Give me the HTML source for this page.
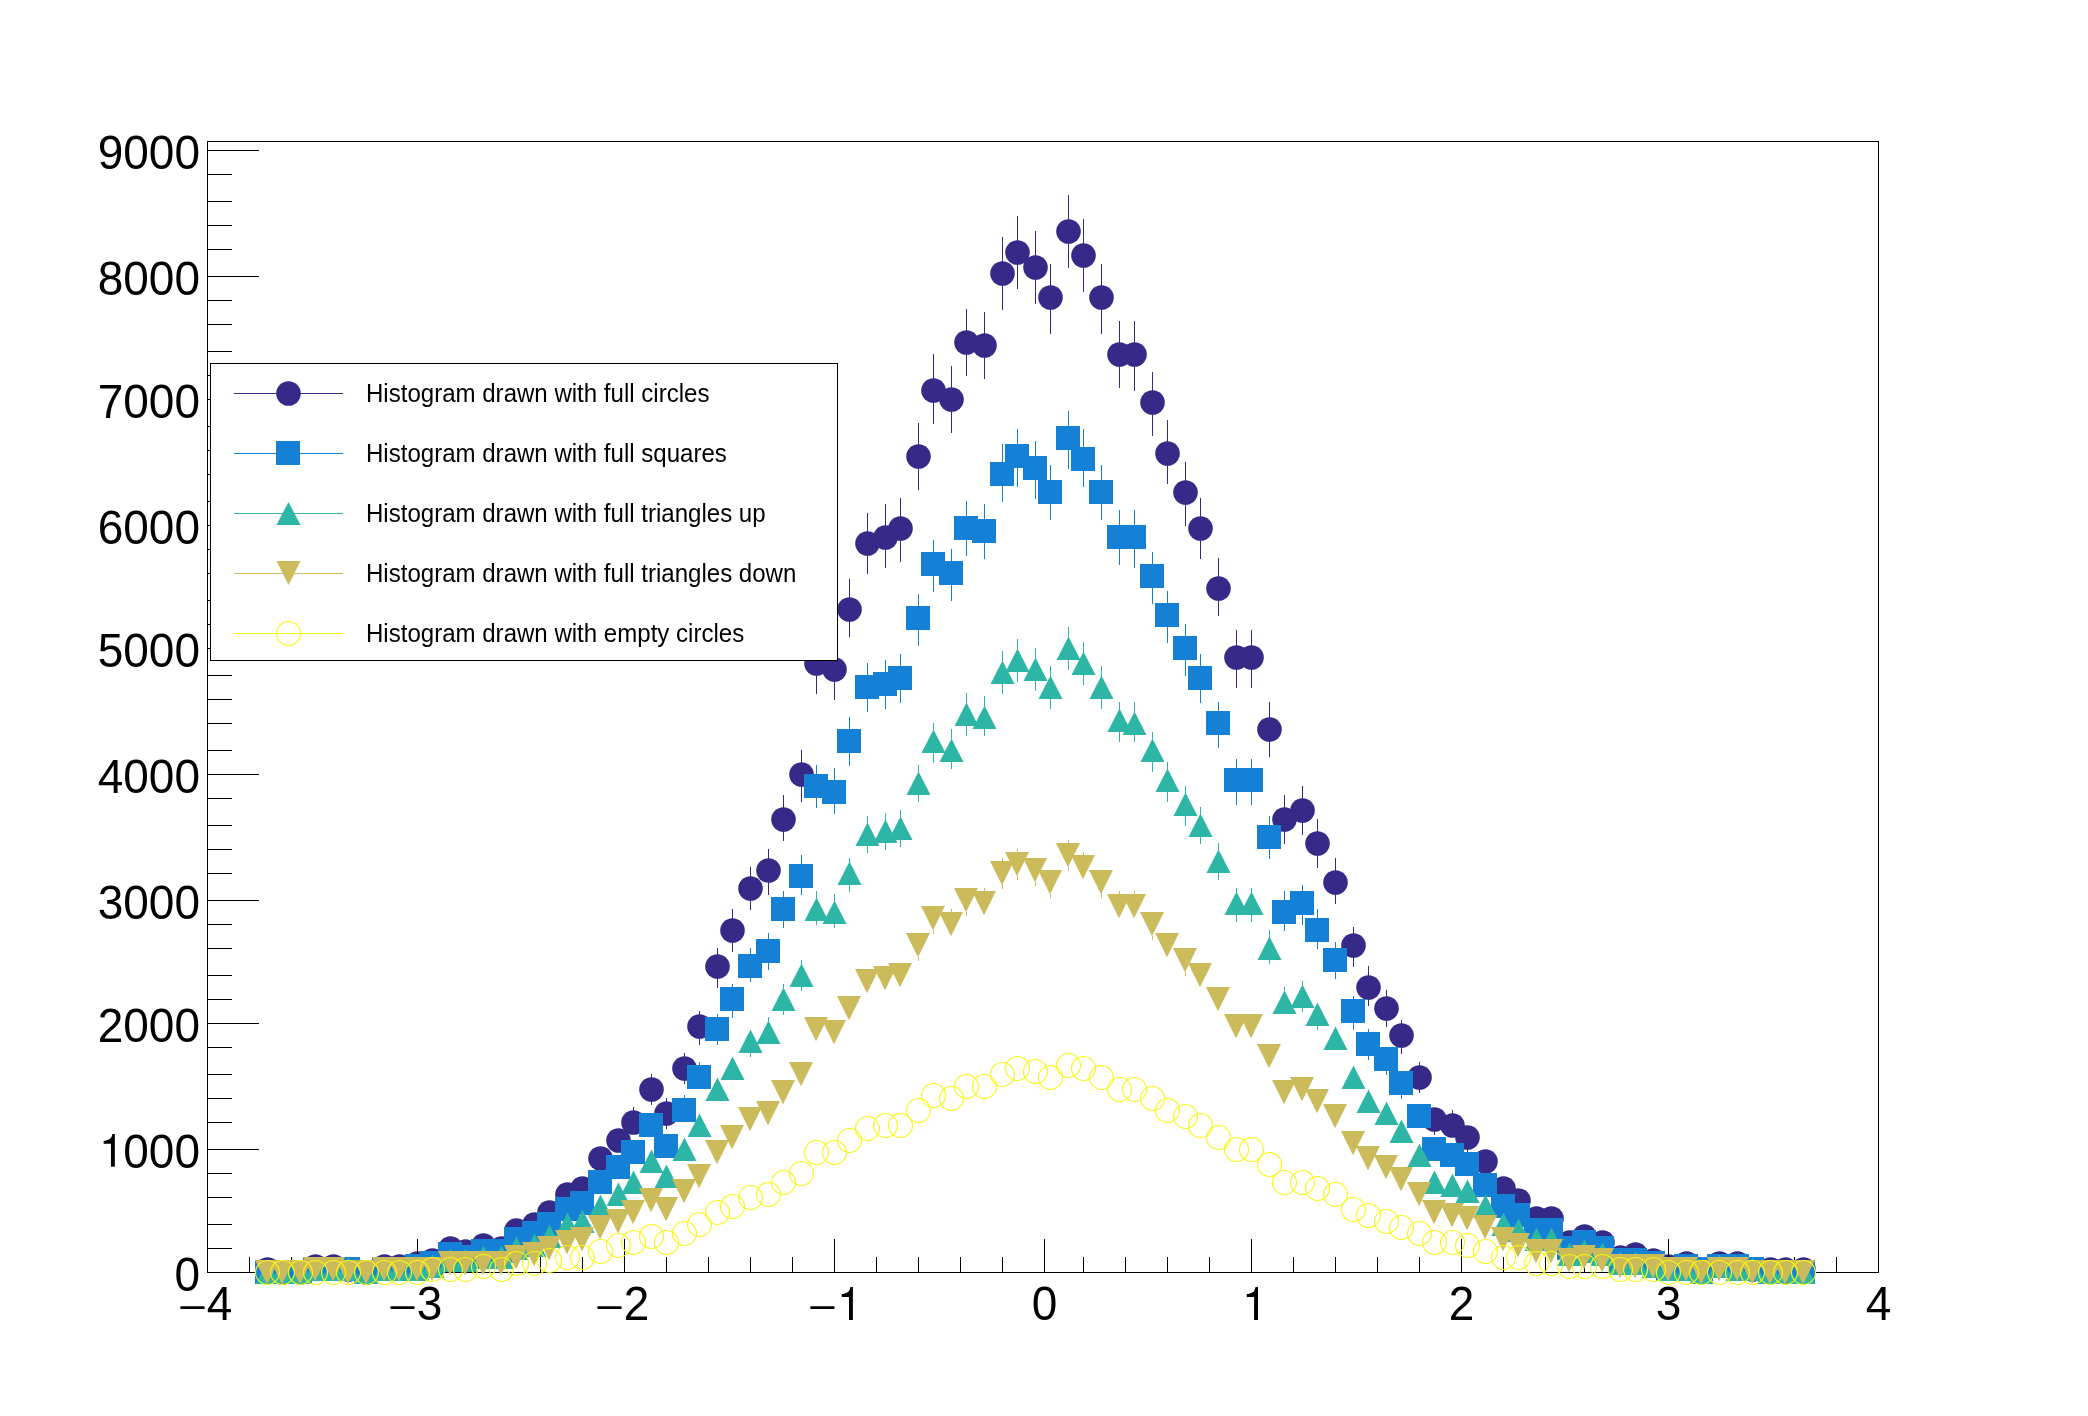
<!DOCTYPE html>
<html><head><meta charset="utf-8"><style>
html,body{margin:0;padding:0;background:#fff;}
svg{display:block;will-change:transform;}
.lab{font-family:"Liberation Sans",sans-serif;font-size:46px;fill:#000;}
.leg{font-family:"Liberation Sans",sans-serif;font-size:24.5px;fill:#000;}
</style></head><body>
<svg width="2088" height="1416" viewBox="0 0 2088 1416">
<rect width="2088" height="1416" fill="#fff"/>
<rect x="207.5" y="141.5" width="1671" height="1131" fill="none" stroke="#000" stroke-width="1"/><g><circle cx="267.5" cy="1269.5" r="12.3" fill="#352a87"/><circle cx="282.5" cy="1272.5" r="12.3" fill="#352a87"/><circle cx="300.5" cy="1272.5" r="12.3" fill="#352a87"/><circle cx="315.5" cy="1266.5" r="12.3" fill="#352a87"/><circle cx="333.5" cy="1266.5" r="12.3" fill="#352a87"/><circle cx="348.5" cy="1269.5" r="12.3" fill="#352a87"/><circle cx="366.5" cy="1272.5" r="12.3" fill="#352a87"/><circle cx="384.5" cy="1266.5" r="12.3" fill="#352a87"/><circle cx="399.5" cy="1266.5" r="12.3" fill="#352a87"/><circle cx="417.5" cy="1263.5" r="12.3" fill="#352a87"/><circle cx="432.5" cy="1260.5" r="12.3" fill="#352a87"/><circle cx="450.5" cy="1248.5" r="12.3" fill="#352a87"/><circle cx="465.5" cy="1251.5" r="12.3" fill="#352a87"/><circle cx="483.5" cy="1245.5" r="12.3" fill="#352a87"/><circle cx="501.5" cy="1248.5" r="12.3" fill="#352a87"/><circle cx="516.5" cy="1230.5" r="12.3" fill="#352a87"/><circle cx="534.5" cy="1224.5" r="12.3" fill="#352a87"/><circle cx="549.5" cy="1212.5" r="12.3" fill="#352a87"/><circle cx="567.5" cy="1194.5" r="12.3" fill="#352a87"/><circle cx="582.5" cy="1188.5" r="12.3" fill="#352a87"/><circle cx="600.5" cy="1158.5" r="12.3" fill="#352a87"/><circle cx="618.5" cy="1140.5" r="12.3" fill="#352a87"/><line x1="633.5" y1="1107" x2="633.5" y2="1111" stroke="#352a87" stroke-width="1"/><circle cx="633.5" cy="1122.5" r="12.3" fill="#352a87"/><line x1="651.5" y1="1074" x2="651.5" y2="1078" stroke="#352a87" stroke-width="1"/><line x1="651.5" y1="1101" x2="651.5" y2="1105" stroke="#352a87" stroke-width="1"/><circle cx="651.5" cy="1089.5" r="12.3" fill="#352a87"/><line x1="666.5" y1="1098" x2="666.5" y2="1102" stroke="#352a87" stroke-width="1"/><line x1="666.5" y1="1125" x2="666.5" y2="1129" stroke="#352a87" stroke-width="1"/><circle cx="666.5" cy="1113.5" r="12.3" fill="#352a87"/><line x1="684.5" y1="1053" x2="684.5" y2="1057" stroke="#352a87" stroke-width="1"/><line x1="684.5" y1="1080" x2="684.5" y2="1084" stroke="#352a87" stroke-width="1"/><circle cx="684.5" cy="1068.5" r="12.3" fill="#352a87"/><line x1="699.5" y1="1011" x2="699.5" y2="1015" stroke="#352a87" stroke-width="1"/><line x1="699.5" y1="1038" x2="699.5" y2="1045" stroke="#352a87" stroke-width="1"/><circle cx="699.5" cy="1026.5" r="12.3" fill="#352a87"/><line x1="717.5" y1="948" x2="717.5" y2="955" stroke="#352a87" stroke-width="1"/><line x1="717.5" y1="978" x2="717.5" y2="988" stroke="#352a87" stroke-width="1"/><circle cx="717.5" cy="966.5" r="12.3" fill="#352a87"/><line x1="732.5" y1="909" x2="732.5" y2="919" stroke="#352a87" stroke-width="1"/><line x1="732.5" y1="942" x2="732.5" y2="952" stroke="#352a87" stroke-width="1"/><circle cx="732.5" cy="930.5" r="12.3" fill="#352a87"/><line x1="750.5" y1="867" x2="750.5" y2="877" stroke="#352a87" stroke-width="1"/><line x1="750.5" y1="900" x2="750.5" y2="910" stroke="#352a87" stroke-width="1"/><circle cx="750.5" cy="888.5" r="12.3" fill="#352a87"/><line x1="768.5" y1="849" x2="768.5" y2="859" stroke="#352a87" stroke-width="1"/><line x1="768.5" y1="882" x2="768.5" y2="895" stroke="#352a87" stroke-width="1"/><circle cx="768.5" cy="870.5" r="12.3" fill="#352a87"/><line x1="783.5" y1="795" x2="783.5" y2="808" stroke="#352a87" stroke-width="1"/><line x1="783.5" y1="831" x2="783.5" y2="841" stroke="#352a87" stroke-width="1"/><circle cx="783.5" cy="819.5" r="12.3" fill="#352a87"/><line x1="801.5" y1="750" x2="801.5" y2="763" stroke="#352a87" stroke-width="1"/><line x1="801.5" y1="786" x2="801.5" y2="802" stroke="#352a87" stroke-width="1"/><circle cx="801.5" cy="774.5" r="12.3" fill="#352a87"/><line x1="816.5" y1="636" x2="816.5" y2="652" stroke="#352a87" stroke-width="1"/><line x1="816.5" y1="675" x2="816.5" y2="694" stroke="#352a87" stroke-width="1"/><circle cx="816.5" cy="663.5" r="12.3" fill="#352a87"/><line x1="834.5" y1="642" x2="834.5" y2="658" stroke="#352a87" stroke-width="1"/><line x1="834.5" y1="681" x2="834.5" y2="700" stroke="#352a87" stroke-width="1"/><circle cx="834.5" cy="669.5" r="12.3" fill="#352a87"/><line x1="849.5" y1="579" x2="849.5" y2="598" stroke="#352a87" stroke-width="1"/><line x1="849.5" y1="621" x2="849.5" y2="637" stroke="#352a87" stroke-width="1"/><circle cx="849.5" cy="609.5" r="12.3" fill="#352a87"/><line x1="867.5" y1="513" x2="867.5" y2="532" stroke="#352a87" stroke-width="1"/><line x1="867.5" y1="555" x2="867.5" y2="574" stroke="#352a87" stroke-width="1"/><circle cx="867.5" cy="543.5" r="12.3" fill="#352a87"/><line x1="885.5" y1="504" x2="885.5" y2="526" stroke="#352a87" stroke-width="1"/><line x1="885.5" y1="549" x2="885.5" y2="568" stroke="#352a87" stroke-width="1"/><circle cx="885.5" cy="537.5" r="12.3" fill="#352a87"/><line x1="900.5" y1="498" x2="900.5" y2="517" stroke="#352a87" stroke-width="1"/><line x1="900.5" y1="540" x2="900.5" y2="562" stroke="#352a87" stroke-width="1"/><circle cx="900.5" cy="528.5" r="12.3" fill="#352a87"/><line x1="918.5" y1="423" x2="918.5" y2="445" stroke="#352a87" stroke-width="1"/><line x1="918.5" y1="468" x2="918.5" y2="490" stroke="#352a87" stroke-width="1"/><circle cx="918.5" cy="456.5" r="12.3" fill="#352a87"/><line x1="933.5" y1="354" x2="933.5" y2="379" stroke="#352a87" stroke-width="1"/><line x1="933.5" y1="402" x2="933.5" y2="424" stroke="#352a87" stroke-width="1"/><circle cx="933.5" cy="390.5" r="12.3" fill="#352a87"/><line x1="951.5" y1="366" x2="951.5" y2="388" stroke="#352a87" stroke-width="1"/><line x1="951.5" y1="411" x2="951.5" y2="433" stroke="#352a87" stroke-width="1"/><circle cx="951.5" cy="399.5" r="12.3" fill="#352a87"/><line x1="966.5" y1="309" x2="966.5" y2="331" stroke="#352a87" stroke-width="1"/><line x1="966.5" y1="354" x2="966.5" y2="376" stroke="#352a87" stroke-width="1"/><circle cx="966.5" cy="342.5" r="12.3" fill="#352a87"/><line x1="984.5" y1="312" x2="984.5" y2="334" stroke="#352a87" stroke-width="1"/><line x1="984.5" y1="357" x2="984.5" y2="379" stroke="#352a87" stroke-width="1"/><circle cx="984.5" cy="345.5" r="12.3" fill="#352a87"/><line x1="1002.5" y1="237" x2="1002.5" y2="262" stroke="#352a87" stroke-width="1"/><line x1="1002.5" y1="285" x2="1002.5" y2="310" stroke="#352a87" stroke-width="1"/><circle cx="1002.5" cy="273.5" r="12.3" fill="#352a87"/><line x1="1017.5" y1="216" x2="1017.5" y2="241" stroke="#352a87" stroke-width="1"/><line x1="1017.5" y1="264" x2="1017.5" y2="289" stroke="#352a87" stroke-width="1"/><circle cx="1017.5" cy="252.5" r="12.3" fill="#352a87"/><line x1="1035.5" y1="231" x2="1035.5" y2="256" stroke="#352a87" stroke-width="1"/><line x1="1035.5" y1="279" x2="1035.5" y2="304" stroke="#352a87" stroke-width="1"/><circle cx="1035.5" cy="267.5" r="12.3" fill="#352a87"/><line x1="1050.5" y1="264" x2="1050.5" y2="286" stroke="#352a87" stroke-width="1"/><line x1="1050.5" y1="309" x2="1050.5" y2="334" stroke="#352a87" stroke-width="1"/><circle cx="1050.5" cy="297.5" r="12.3" fill="#352a87"/><line x1="1068.5" y1="195" x2="1068.5" y2="220" stroke="#352a87" stroke-width="1"/><line x1="1068.5" y1="243" x2="1068.5" y2="268" stroke="#352a87" stroke-width="1"/><circle cx="1068.5" cy="231.5" r="12.3" fill="#352a87"/><line x1="1083.5" y1="219" x2="1083.5" y2="244" stroke="#352a87" stroke-width="1"/><line x1="1083.5" y1="267" x2="1083.5" y2="292" stroke="#352a87" stroke-width="1"/><circle cx="1083.5" cy="255.5" r="12.3" fill="#352a87"/><line x1="1101.5" y1="264" x2="1101.5" y2="286" stroke="#352a87" stroke-width="1"/><line x1="1101.5" y1="309" x2="1101.5" y2="334" stroke="#352a87" stroke-width="1"/><circle cx="1101.5" cy="297.5" r="12.3" fill="#352a87"/><line x1="1119.5" y1="321" x2="1119.5" y2="343" stroke="#352a87" stroke-width="1"/><line x1="1119.5" y1="366" x2="1119.5" y2="388" stroke="#352a87" stroke-width="1"/><circle cx="1119.5" cy="354.5" r="12.3" fill="#352a87"/><line x1="1134.5" y1="321" x2="1134.5" y2="343" stroke="#352a87" stroke-width="1"/><line x1="1134.5" y1="366" x2="1134.5" y2="391" stroke="#352a87" stroke-width="1"/><circle cx="1134.5" cy="354.5" r="12.3" fill="#352a87"/><line x1="1152.5" y1="372" x2="1152.5" y2="391" stroke="#352a87" stroke-width="1"/><line x1="1152.5" y1="414" x2="1152.5" y2="436" stroke="#352a87" stroke-width="1"/><circle cx="1152.5" cy="402.5" r="12.3" fill="#352a87"/><line x1="1167.5" y1="420" x2="1167.5" y2="442" stroke="#352a87" stroke-width="1"/><line x1="1167.5" y1="465" x2="1167.5" y2="484" stroke="#352a87" stroke-width="1"/><circle cx="1167.5" cy="453.5" r="12.3" fill="#352a87"/><line x1="1185.5" y1="462" x2="1185.5" y2="481" stroke="#352a87" stroke-width="1"/><line x1="1185.5" y1="504" x2="1185.5" y2="526" stroke="#352a87" stroke-width="1"/><circle cx="1185.5" cy="492.5" r="12.3" fill="#352a87"/><line x1="1200.5" y1="498" x2="1200.5" y2="517" stroke="#352a87" stroke-width="1"/><line x1="1200.5" y1="540" x2="1200.5" y2="559" stroke="#352a87" stroke-width="1"/><circle cx="1200.5" cy="528.5" r="12.3" fill="#352a87"/><line x1="1218.5" y1="558" x2="1218.5" y2="577" stroke="#352a87" stroke-width="1"/><line x1="1218.5" y1="600" x2="1218.5" y2="616" stroke="#352a87" stroke-width="1"/><circle cx="1218.5" cy="588.5" r="12.3" fill="#352a87"/><line x1="1236.5" y1="630" x2="1236.5" y2="646" stroke="#352a87" stroke-width="1"/><line x1="1236.5" y1="669" x2="1236.5" y2="688" stroke="#352a87" stroke-width="1"/><circle cx="1236.5" cy="657.5" r="12.3" fill="#352a87"/><line x1="1251.5" y1="630" x2="1251.5" y2="646" stroke="#352a87" stroke-width="1"/><line x1="1251.5" y1="669" x2="1251.5" y2="688" stroke="#352a87" stroke-width="1"/><circle cx="1251.5" cy="657.5" r="12.3" fill="#352a87"/><line x1="1269.5" y1="702" x2="1269.5" y2="718" stroke="#352a87" stroke-width="1"/><line x1="1269.5" y1="741" x2="1269.5" y2="757" stroke="#352a87" stroke-width="1"/><circle cx="1269.5" cy="729.5" r="12.3" fill="#352a87"/><line x1="1284.5" y1="795" x2="1284.5" y2="808" stroke="#352a87" stroke-width="1"/><line x1="1284.5" y1="831" x2="1284.5" y2="844" stroke="#352a87" stroke-width="1"/><circle cx="1284.5" cy="819.5" r="12.3" fill="#352a87"/><line x1="1302.5" y1="786" x2="1302.5" y2="799" stroke="#352a87" stroke-width="1"/><line x1="1302.5" y1="822" x2="1302.5" y2="835" stroke="#352a87" stroke-width="1"/><circle cx="1302.5" cy="810.5" r="12.3" fill="#352a87"/><line x1="1317.5" y1="819" x2="1317.5" y2="832" stroke="#352a87" stroke-width="1"/><line x1="1317.5" y1="855" x2="1317.5" y2="868" stroke="#352a87" stroke-width="1"/><circle cx="1317.5" cy="843.5" r="12.3" fill="#352a87"/><line x1="1335.5" y1="858" x2="1335.5" y2="871" stroke="#352a87" stroke-width="1"/><line x1="1335.5" y1="894" x2="1335.5" y2="904" stroke="#352a87" stroke-width="1"/><circle cx="1335.5" cy="882.5" r="12.3" fill="#352a87"/><line x1="1353.5" y1="927" x2="1353.5" y2="934" stroke="#352a87" stroke-width="1"/><line x1="1353.5" y1="957" x2="1353.5" y2="967" stroke="#352a87" stroke-width="1"/><circle cx="1353.5" cy="945.5" r="12.3" fill="#352a87"/><line x1="1368.5" y1="966" x2="1368.5" y2="976" stroke="#352a87" stroke-width="1"/><line x1="1368.5" y1="999" x2="1368.5" y2="1006" stroke="#352a87" stroke-width="1"/><circle cx="1368.5" cy="987.5" r="12.3" fill="#352a87"/><line x1="1386.5" y1="990" x2="1386.5" y2="997" stroke="#352a87" stroke-width="1"/><line x1="1386.5" y1="1020" x2="1386.5" y2="1027" stroke="#352a87" stroke-width="1"/><circle cx="1386.5" cy="1008.5" r="12.3" fill="#352a87"/><line x1="1401.5" y1="1020" x2="1401.5" y2="1024" stroke="#352a87" stroke-width="1"/><line x1="1401.5" y1="1047" x2="1401.5" y2="1054" stroke="#352a87" stroke-width="1"/><circle cx="1401.5" cy="1035.5" r="12.3" fill="#352a87"/><line x1="1419.5" y1="1062" x2="1419.5" y2="1066" stroke="#352a87" stroke-width="1"/><line x1="1419.5" y1="1089" x2="1419.5" y2="1093" stroke="#352a87" stroke-width="1"/><circle cx="1419.5" cy="1077.5" r="12.3" fill="#352a87"/><line x1="1434.5" y1="1131" x2="1434.5" y2="1135" stroke="#352a87" stroke-width="1"/><circle cx="1434.5" cy="1119.5" r="12.3" fill="#352a87"/><line x1="1452.5" y1="1110" x2="1452.5" y2="1114" stroke="#352a87" stroke-width="1"/><circle cx="1452.5" cy="1125.5" r="12.3" fill="#352a87"/><line x1="1467.5" y1="1149" x2="1467.5" y2="1153" stroke="#352a87" stroke-width="1"/><circle cx="1467.5" cy="1137.5" r="12.3" fill="#352a87"/><circle cx="1485.5" cy="1161.5" r="12.3" fill="#352a87"/><circle cx="1503.5" cy="1188.5" r="12.3" fill="#352a87"/><circle cx="1518.5" cy="1200.5" r="12.3" fill="#352a87"/><circle cx="1536.5" cy="1218.5" r="12.3" fill="#352a87"/><circle cx="1551.5" cy="1218.5" r="12.3" fill="#352a87"/><circle cx="1569.5" cy="1242.5" r="12.3" fill="#352a87"/><circle cx="1584.5" cy="1236.5" r="12.3" fill="#352a87"/><circle cx="1602.5" cy="1242.5" r="12.3" fill="#352a87"/><circle cx="1620.5" cy="1257.5" r="12.3" fill="#352a87"/><circle cx="1635.5" cy="1254.5" r="12.3" fill="#352a87"/><circle cx="1653.5" cy="1260.5" r="12.3" fill="#352a87"/><circle cx="1668.5" cy="1266.5" r="12.3" fill="#352a87"/><circle cx="1686.5" cy="1263.5" r="12.3" fill="#352a87"/><circle cx="1701.5" cy="1269.5" r="12.3" fill="#352a87"/><circle cx="1719.5" cy="1263.5" r="12.3" fill="#352a87"/><circle cx="1737.5" cy="1263.5" r="12.3" fill="#352a87"/><circle cx="1752.5" cy="1269.5" r="12.3" fill="#352a87"/><circle cx="1770.5" cy="1269.5" r="12.3" fill="#352a87"/><circle cx="1785.5" cy="1269.5" r="12.3" fill="#352a87"/><circle cx="1803.5" cy="1269.5" r="12.3" fill="#352a87"/></g><line x1="207" y1="1272.5" x2="259" y2="1272.5" stroke="#000" stroke-width="1"/><text transform="translate(200,1291.0) scale(1,1.056)" text-anchor="end" class="lab">0</text><line x1="207" y1="1248.5" x2="232" y2="1248.5" stroke="#000" stroke-width="1"/><line x1="207" y1="1224.5" x2="232" y2="1224.5" stroke="#000" stroke-width="1"/><line x1="207" y1="1197.5" x2="232" y2="1197.5" stroke="#000" stroke-width="1"/><line x1="207" y1="1173.5" x2="232" y2="1173.5" stroke="#000" stroke-width="1"/><line x1="207" y1="1149.5" x2="259" y2="1149.5" stroke="#000" stroke-width="1"/><path d="M114.85 1134.00V1166.80H110.95V1143.80H103.65V1140.90C107.15 1140.60 109.95 1139.20 110.95 1137.80C111.65 1136.80 112.15 1135.20 112.35 1134.00Z" fill="#000"/><text transform="translate(200,1168.0) scale(1,1.056)" text-anchor="end" class="lab">000</text><line x1="207" y1="1122.5" x2="232" y2="1122.5" stroke="#000" stroke-width="1"/><line x1="207" y1="1098.5" x2="232" y2="1098.5" stroke="#000" stroke-width="1"/><line x1="207" y1="1074.5" x2="232" y2="1074.5" stroke="#000" stroke-width="1"/><line x1="207" y1="1047.5" x2="232" y2="1047.5" stroke="#000" stroke-width="1"/><line x1="207" y1="1023.5" x2="259" y2="1023.5" stroke="#000" stroke-width="1"/><text transform="translate(200,1042.0) scale(1,1.056)" text-anchor="end" class="lab">2000</text><line x1="207" y1="999.5" x2="232" y2="999.5" stroke="#000" stroke-width="1"/><line x1="207" y1="975.5" x2="232" y2="975.5" stroke="#000" stroke-width="1"/><line x1="207" y1="948.5" x2="232" y2="948.5" stroke="#000" stroke-width="1"/><line x1="207" y1="924.5" x2="232" y2="924.5" stroke="#000" stroke-width="1"/><line x1="207" y1="900.5" x2="259" y2="900.5" stroke="#000" stroke-width="1"/><text transform="translate(200,919.0) scale(1,1.056)" text-anchor="end" class="lab">3000</text><line x1="207" y1="873.5" x2="232" y2="873.5" stroke="#000" stroke-width="1"/><line x1="207" y1="849.5" x2="232" y2="849.5" stroke="#000" stroke-width="1"/><line x1="207" y1="825.5" x2="232" y2="825.5" stroke="#000" stroke-width="1"/><line x1="207" y1="798.5" x2="232" y2="798.5" stroke="#000" stroke-width="1"/><line x1="207" y1="774.5" x2="259" y2="774.5" stroke="#000" stroke-width="1"/><text transform="translate(200,793.0) scale(1,1.056)" text-anchor="end" class="lab">4000</text><line x1="207" y1="750.5" x2="232" y2="750.5" stroke="#000" stroke-width="1"/><line x1="207" y1="723.5" x2="232" y2="723.5" stroke="#000" stroke-width="1"/><line x1="207" y1="699.5" x2="232" y2="699.5" stroke="#000" stroke-width="1"/><line x1="207" y1="675.5" x2="232" y2="675.5" stroke="#000" stroke-width="1"/><line x1="207" y1="648.5" x2="259" y2="648.5" stroke="#000" stroke-width="1"/><text transform="translate(200,667.0) scale(1,1.056)" text-anchor="end" class="lab">5000</text><line x1="207" y1="624.5" x2="232" y2="624.5" stroke="#000" stroke-width="1"/><line x1="207" y1="600.5" x2="232" y2="600.5" stroke="#000" stroke-width="1"/><line x1="207" y1="573.5" x2="232" y2="573.5" stroke="#000" stroke-width="1"/><line x1="207" y1="549.5" x2="232" y2="549.5" stroke="#000" stroke-width="1"/><line x1="207" y1="525.5" x2="259" y2="525.5" stroke="#000" stroke-width="1"/><text transform="translate(200,544.0) scale(1,1.056)" text-anchor="end" class="lab">6000</text><line x1="207" y1="501.5" x2="232" y2="501.5" stroke="#000" stroke-width="1"/><line x1="207" y1="474.5" x2="232" y2="474.5" stroke="#000" stroke-width="1"/><line x1="207" y1="450.5" x2="232" y2="450.5" stroke="#000" stroke-width="1"/><line x1="207" y1="426.5" x2="232" y2="426.5" stroke="#000" stroke-width="1"/><line x1="207" y1="399.5" x2="259" y2="399.5" stroke="#000" stroke-width="1"/><text transform="translate(200,418.0) scale(1,1.056)" text-anchor="end" class="lab">7000</text><line x1="207" y1="375.5" x2="232" y2="375.5" stroke="#000" stroke-width="1"/><line x1="207" y1="351.5" x2="232" y2="351.5" stroke="#000" stroke-width="1"/><line x1="207" y1="324.5" x2="232" y2="324.5" stroke="#000" stroke-width="1"/><line x1="207" y1="300.5" x2="232" y2="300.5" stroke="#000" stroke-width="1"/><line x1="207" y1="276.5" x2="259" y2="276.5" stroke="#000" stroke-width="1"/><text transform="translate(200,295.0) scale(1,1.056)" text-anchor="end" class="lab">8000</text><line x1="207" y1="249.5" x2="232" y2="249.5" stroke="#000" stroke-width="1"/><line x1="207" y1="225.5" x2="232" y2="225.5" stroke="#000" stroke-width="1"/><line x1="207" y1="201.5" x2="232" y2="201.5" stroke="#000" stroke-width="1"/><line x1="207" y1="174.5" x2="232" y2="174.5" stroke="#000" stroke-width="1"/><line x1="207" y1="150.5" x2="259" y2="150.5" stroke="#000" stroke-width="1"/><text transform="translate(200,169.0) scale(1,1.056)" text-anchor="end" class="lab">9000</text><line x1="207.5" y1="1273" x2="207.5" y2="1239" stroke="#000" stroke-width="1"/><rect x="180.3" y="1306.2" width="24.4" height="2.7" rx="1" fill="#000"/><text transform="translate(219.5,1320.3) scale(1,1.056)" text-anchor="middle" class="lab">4</text><line x1="249.5" y1="1273" x2="249.5" y2="1257" stroke="#000" stroke-width="1"/><line x1="291.5" y1="1273" x2="291.5" y2="1257" stroke="#000" stroke-width="1"/><line x1="333.5" y1="1273" x2="333.5" y2="1257" stroke="#000" stroke-width="1"/><line x1="375.5" y1="1273" x2="375.5" y2="1257" stroke="#000" stroke-width="1"/><line x1="417.5" y1="1273" x2="417.5" y2="1239" stroke="#000" stroke-width="1"/><rect x="390.3" y="1306.2" width="24.4" height="2.7" rx="1" fill="#000"/><text transform="translate(429.5,1320.3) scale(1,1.056)" text-anchor="middle" class="lab">3</text><line x1="459.5" y1="1273" x2="459.5" y2="1257" stroke="#000" stroke-width="1"/><line x1="501.5" y1="1273" x2="501.5" y2="1257" stroke="#000" stroke-width="1"/><line x1="540.5" y1="1273" x2="540.5" y2="1257" stroke="#000" stroke-width="1"/><line x1="582.5" y1="1273" x2="582.5" y2="1257" stroke="#000" stroke-width="1"/><line x1="624.5" y1="1273" x2="624.5" y2="1239" stroke="#000" stroke-width="1"/><rect x="597.3" y="1306.2" width="24.4" height="2.7" rx="1" fill="#000"/><text transform="translate(636.5,1320.3) scale(1,1.056)" text-anchor="middle" class="lab">2</text><line x1="666.5" y1="1273" x2="666.5" y2="1257" stroke="#000" stroke-width="1"/><line x1="708.5" y1="1273" x2="708.5" y2="1257" stroke="#000" stroke-width="1"/><line x1="750.5" y1="1273" x2="750.5" y2="1257" stroke="#000" stroke-width="1"/><line x1="792.5" y1="1273" x2="792.5" y2="1257" stroke="#000" stroke-width="1"/><line x1="834.5" y1="1273" x2="834.5" y2="1239" stroke="#000" stroke-width="1"/><rect x="810.2" y="1306.2" width="24.4" height="2.7" rx="1" fill="#000"/><path d="M852.90 1287.10V1319.90H849.00V1296.90H841.70V1294.00C845.20 1293.70 848.00 1292.30 849.00 1290.90C849.70 1289.90 850.20 1288.30 850.40 1287.10Z" fill="#000"/><line x1="876.5" y1="1273" x2="876.5" y2="1257" stroke="#000" stroke-width="1"/><line x1="918.5" y1="1273" x2="918.5" y2="1257" stroke="#000" stroke-width="1"/><line x1="960.5" y1="1273" x2="960.5" y2="1257" stroke="#000" stroke-width="1"/><line x1="1002.5" y1="1273" x2="1002.5" y2="1257" stroke="#000" stroke-width="1"/><line x1="1044.5" y1="1273" x2="1044.5" y2="1239" stroke="#000" stroke-width="1"/><text transform="translate(1044.5,1320.3) scale(1,1.056)" text-anchor="middle" class="lab">0</text><line x1="1083.5" y1="1273" x2="1083.5" y2="1257" stroke="#000" stroke-width="1"/><line x1="1125.5" y1="1273" x2="1125.5" y2="1257" stroke="#000" stroke-width="1"/><line x1="1167.5" y1="1273" x2="1167.5" y2="1257" stroke="#000" stroke-width="1"/><line x1="1209.5" y1="1273" x2="1209.5" y2="1257" stroke="#000" stroke-width="1"/><line x1="1251.5" y1="1273" x2="1251.5" y2="1239" stroke="#000" stroke-width="1"/><path d="M1258.00 1287.10V1319.90H1254.10V1296.90H1246.80V1294.00C1250.30 1293.70 1253.10 1292.30 1254.10 1290.90C1254.80 1289.90 1255.30 1288.30 1255.50 1287.10Z" fill="#000"/><line x1="1293.5" y1="1273" x2="1293.5" y2="1257" stroke="#000" stroke-width="1"/><line x1="1335.5" y1="1273" x2="1335.5" y2="1257" stroke="#000" stroke-width="1"/><line x1="1377.5" y1="1273" x2="1377.5" y2="1257" stroke="#000" stroke-width="1"/><line x1="1419.5" y1="1273" x2="1419.5" y2="1257" stroke="#000" stroke-width="1"/><line x1="1461.5" y1="1273" x2="1461.5" y2="1239" stroke="#000" stroke-width="1"/><text transform="translate(1461.5,1320.3) scale(1,1.056)" text-anchor="middle" class="lab">2</text><line x1="1503.5" y1="1273" x2="1503.5" y2="1257" stroke="#000" stroke-width="1"/><line x1="1545.5" y1="1273" x2="1545.5" y2="1257" stroke="#000" stroke-width="1"/><line x1="1584.5" y1="1273" x2="1584.5" y2="1257" stroke="#000" stroke-width="1"/><line x1="1626.5" y1="1273" x2="1626.5" y2="1257" stroke="#000" stroke-width="1"/><line x1="1668.5" y1="1273" x2="1668.5" y2="1239" stroke="#000" stroke-width="1"/><text transform="translate(1668.5,1320.3) scale(1,1.056)" text-anchor="middle" class="lab">3</text><line x1="1710.5" y1="1273" x2="1710.5" y2="1257" stroke="#000" stroke-width="1"/><line x1="1752.5" y1="1273" x2="1752.5" y2="1257" stroke="#000" stroke-width="1"/><line x1="1794.5" y1="1273" x2="1794.5" y2="1257" stroke="#000" stroke-width="1"/><line x1="1836.5" y1="1273" x2="1836.5" y2="1257" stroke="#000" stroke-width="1"/><line x1="1878.5" y1="1273" x2="1878.5" y2="1239" stroke="#000" stroke-width="1"/><text transform="translate(1878.5,1320.3) scale(1,1.056)" text-anchor="middle" class="lab">4</text><g><rect x="255.0" y="1260.0" width="24" height="24" fill="#1481d6"/><rect x="270.0" y="1260.0" width="24" height="24" fill="#1481d6"/><rect x="288.0" y="1260.0" width="24" height="24" fill="#1481d6"/><rect x="303.0" y="1257.0" width="24" height="24" fill="#1481d6"/><rect x="321.0" y="1257.0" width="24" height="24" fill="#1481d6"/><rect x="336.0" y="1257.0" width="24" height="24" fill="#1481d6"/><rect x="354.0" y="1260.0" width="24" height="24" fill="#1481d6"/><rect x="372.0" y="1257.0" width="24" height="24" fill="#1481d6"/><rect x="387.0" y="1257.0" width="24" height="24" fill="#1481d6"/><rect x="405.0" y="1254.0" width="24" height="24" fill="#1481d6"/><rect x="420.0" y="1251.0" width="24" height="24" fill="#1481d6"/><rect x="438.0" y="1242.0" width="24" height="24" fill="#1481d6"/><rect x="453.0" y="1245.0" width="24" height="24" fill="#1481d6"/><rect x="471.0" y="1239.0" width="24" height="24" fill="#1481d6"/><rect x="489.0" y="1239.0" width="24" height="24" fill="#1481d6"/><rect x="504.0" y="1227.0" width="24" height="24" fill="#1481d6"/><rect x="522.0" y="1221.0" width="24" height="24" fill="#1481d6"/><rect x="537.0" y="1212.0" width="24" height="24" fill="#1481d6"/><rect x="555.0" y="1197.0" width="24" height="24" fill="#1481d6"/><rect x="570.0" y="1191.0" width="24" height="24" fill="#1481d6"/><rect x="588.0" y="1170.0" width="24" height="24" fill="#1481d6"/><rect x="606.0" y="1155.0" width="24" height="24" fill="#1481d6"/><rect x="621.0" y="1140.0" width="24" height="24" fill="#1481d6"/><rect x="639.0" y="1113.0" width="24" height="24" fill="#1481d6"/><rect x="654.0" y="1134.0" width="24" height="24" fill="#1481d6"/><line x1="684.5" y1="1095" x2="684.5" y2="1099" stroke="#1481d6" stroke-width="1"/><rect x="672.0" y="1098.0" width="24" height="24" fill="#1481d6"/><line x1="699.5" y1="1062" x2="699.5" y2="1066" stroke="#1481d6" stroke-width="1"/><rect x="687.0" y="1065.0" width="24" height="24" fill="#1481d6"/><line x1="717.5" y1="1014" x2="717.5" y2="1018" stroke="#1481d6" stroke-width="1"/><line x1="717.5" y1="1041" x2="717.5" y2="1045" stroke="#1481d6" stroke-width="1"/><rect x="705.0" y="1017.0" width="24" height="24" fill="#1481d6"/><line x1="732.5" y1="984" x2="732.5" y2="988" stroke="#1481d6" stroke-width="1"/><line x1="732.5" y1="1011" x2="732.5" y2="1018" stroke="#1481d6" stroke-width="1"/><rect x="720.0" y="987.0" width="24" height="24" fill="#1481d6"/><line x1="750.5" y1="948" x2="750.5" y2="955" stroke="#1481d6" stroke-width="1"/><line x1="750.5" y1="978" x2="750.5" y2="982" stroke="#1481d6" stroke-width="1"/><rect x="738.0" y="954.0" width="24" height="24" fill="#1481d6"/><line x1="768.5" y1="933" x2="768.5" y2="940" stroke="#1481d6" stroke-width="1"/><line x1="768.5" y1="963" x2="768.5" y2="970" stroke="#1481d6" stroke-width="1"/><rect x="756.0" y="939.0" width="24" height="24" fill="#1481d6"/><line x1="783.5" y1="891" x2="783.5" y2="898" stroke="#1481d6" stroke-width="1"/><line x1="783.5" y1="921" x2="783.5" y2="928" stroke="#1481d6" stroke-width="1"/><rect x="771.0" y="897.0" width="24" height="24" fill="#1481d6"/><line x1="801.5" y1="855" x2="801.5" y2="865" stroke="#1481d6" stroke-width="1"/><line x1="801.5" y1="888" x2="801.5" y2="895" stroke="#1481d6" stroke-width="1"/><rect x="789.0" y="864.0" width="24" height="24" fill="#1481d6"/><line x1="816.5" y1="765" x2="816.5" y2="775" stroke="#1481d6" stroke-width="1"/><line x1="816.5" y1="798" x2="816.5" y2="808" stroke="#1481d6" stroke-width="1"/><rect x="804.0" y="774.0" width="24" height="24" fill="#1481d6"/><line x1="834.5" y1="768" x2="834.5" y2="781" stroke="#1481d6" stroke-width="1"/><line x1="834.5" y1="804" x2="834.5" y2="814" stroke="#1481d6" stroke-width="1"/><rect x="822.0" y="780.0" width="24" height="24" fill="#1481d6"/><line x1="849.5" y1="717" x2="849.5" y2="730" stroke="#1481d6" stroke-width="1"/><line x1="849.5" y1="753" x2="849.5" y2="766" stroke="#1481d6" stroke-width="1"/><rect x="837.0" y="729.0" width="24" height="24" fill="#1481d6"/><line x1="867.5" y1="663" x2="867.5" y2="676" stroke="#1481d6" stroke-width="1"/><line x1="867.5" y1="699" x2="867.5" y2="712" stroke="#1481d6" stroke-width="1"/><rect x="855.0" y="675.0" width="24" height="24" fill="#1481d6"/><line x1="885.5" y1="660" x2="885.5" y2="673" stroke="#1481d6" stroke-width="1"/><line x1="885.5" y1="696" x2="885.5" y2="709" stroke="#1481d6" stroke-width="1"/><rect x="873.0" y="672.0" width="24" height="24" fill="#1481d6"/><line x1="900.5" y1="654" x2="900.5" y2="667" stroke="#1481d6" stroke-width="1"/><line x1="900.5" y1="690" x2="900.5" y2="703" stroke="#1481d6" stroke-width="1"/><rect x="888.0" y="666.0" width="24" height="24" fill="#1481d6"/><line x1="918.5" y1="594" x2="918.5" y2="607" stroke="#1481d6" stroke-width="1"/><line x1="918.5" y1="630" x2="918.5" y2="646" stroke="#1481d6" stroke-width="1"/><rect x="906.0" y="606.0" width="24" height="24" fill="#1481d6"/><line x1="933.5" y1="540" x2="933.5" y2="553" stroke="#1481d6" stroke-width="1"/><line x1="933.5" y1="576" x2="933.5" y2="592" stroke="#1481d6" stroke-width="1"/><rect x="921.0" y="552.0" width="24" height="24" fill="#1481d6"/><line x1="951.5" y1="549" x2="951.5" y2="562" stroke="#1481d6" stroke-width="1"/><line x1="951.5" y1="585" x2="951.5" y2="601" stroke="#1481d6" stroke-width="1"/><rect x="939.0" y="561.0" width="24" height="24" fill="#1481d6"/><line x1="966.5" y1="501" x2="966.5" y2="517" stroke="#1481d6" stroke-width="1"/><line x1="966.5" y1="540" x2="966.5" y2="556" stroke="#1481d6" stroke-width="1"/><rect x="954.0" y="516.0" width="24" height="24" fill="#1481d6"/><line x1="984.5" y1="504" x2="984.5" y2="520" stroke="#1481d6" stroke-width="1"/><line x1="984.5" y1="543" x2="984.5" y2="559" stroke="#1481d6" stroke-width="1"/><rect x="972.0" y="519.0" width="24" height="24" fill="#1481d6"/><line x1="1002.5" y1="444" x2="1002.5" y2="463" stroke="#1481d6" stroke-width="1"/><line x1="1002.5" y1="486" x2="1002.5" y2="502" stroke="#1481d6" stroke-width="1"/><rect x="990.0" y="462.0" width="24" height="24" fill="#1481d6"/><line x1="1017.5" y1="429" x2="1017.5" y2="445" stroke="#1481d6" stroke-width="1"/><line x1="1017.5" y1="468" x2="1017.5" y2="487" stroke="#1481d6" stroke-width="1"/><rect x="1005.0" y="444.0" width="24" height="24" fill="#1481d6"/><line x1="1035.5" y1="441" x2="1035.5" y2="457" stroke="#1481d6" stroke-width="1"/><line x1="1035.5" y1="480" x2="1035.5" y2="499" stroke="#1481d6" stroke-width="1"/><rect x="1023.0" y="456.0" width="24" height="24" fill="#1481d6"/><line x1="1050.5" y1="465" x2="1050.5" y2="481" stroke="#1481d6" stroke-width="1"/><line x1="1050.5" y1="504" x2="1050.5" y2="520" stroke="#1481d6" stroke-width="1"/><rect x="1038.0" y="480.0" width="24" height="24" fill="#1481d6"/><line x1="1068.5" y1="411" x2="1068.5" y2="427" stroke="#1481d6" stroke-width="1"/><line x1="1068.5" y1="450" x2="1068.5" y2="469" stroke="#1481d6" stroke-width="1"/><rect x="1056.0" y="426.0" width="24" height="24" fill="#1481d6"/><line x1="1083.5" y1="429" x2="1083.5" y2="448" stroke="#1481d6" stroke-width="1"/><line x1="1083.5" y1="471" x2="1083.5" y2="487" stroke="#1481d6" stroke-width="1"/><rect x="1071.0" y="447.0" width="24" height="24" fill="#1481d6"/><line x1="1101.5" y1="465" x2="1101.5" y2="481" stroke="#1481d6" stroke-width="1"/><line x1="1101.5" y1="504" x2="1101.5" y2="520" stroke="#1481d6" stroke-width="1"/><rect x="1089.0" y="480.0" width="24" height="24" fill="#1481d6"/><line x1="1119.5" y1="510" x2="1119.5" y2="526" stroke="#1481d6" stroke-width="1"/><line x1="1119.5" y1="549" x2="1119.5" y2="565" stroke="#1481d6" stroke-width="1"/><rect x="1107.0" y="525.0" width="24" height="24" fill="#1481d6"/><line x1="1134.5" y1="510" x2="1134.5" y2="526" stroke="#1481d6" stroke-width="1"/><line x1="1134.5" y1="549" x2="1134.5" y2="568" stroke="#1481d6" stroke-width="1"/><rect x="1122.0" y="525.0" width="24" height="24" fill="#1481d6"/><line x1="1152.5" y1="552" x2="1152.5" y2="565" stroke="#1481d6" stroke-width="1"/><line x1="1152.5" y1="588" x2="1152.5" y2="604" stroke="#1481d6" stroke-width="1"/><rect x="1140.0" y="564.0" width="24" height="24" fill="#1481d6"/><line x1="1167.5" y1="591" x2="1167.5" y2="604" stroke="#1481d6" stroke-width="1"/><line x1="1167.5" y1="627" x2="1167.5" y2="643" stroke="#1481d6" stroke-width="1"/><rect x="1155.0" y="603.0" width="24" height="24" fill="#1481d6"/><line x1="1185.5" y1="624" x2="1185.5" y2="637" stroke="#1481d6" stroke-width="1"/><line x1="1185.5" y1="660" x2="1185.5" y2="676" stroke="#1481d6" stroke-width="1"/><rect x="1173.0" y="636.0" width="24" height="24" fill="#1481d6"/><line x1="1200.5" y1="654" x2="1200.5" y2="667" stroke="#1481d6" stroke-width="1"/><line x1="1200.5" y1="690" x2="1200.5" y2="703" stroke="#1481d6" stroke-width="1"/><rect x="1188.0" y="666.0" width="24" height="24" fill="#1481d6"/><line x1="1218.5" y1="702" x2="1218.5" y2="712" stroke="#1481d6" stroke-width="1"/><line x1="1218.5" y1="735" x2="1218.5" y2="748" stroke="#1481d6" stroke-width="1"/><rect x="1206.0" y="711.0" width="24" height="24" fill="#1481d6"/><line x1="1236.5" y1="759" x2="1236.5" y2="769" stroke="#1481d6" stroke-width="1"/><line x1="1236.5" y1="792" x2="1236.5" y2="805" stroke="#1481d6" stroke-width="1"/><rect x="1224.0" y="768.0" width="24" height="24" fill="#1481d6"/><line x1="1251.5" y1="759" x2="1251.5" y2="769" stroke="#1481d6" stroke-width="1"/><line x1="1251.5" y1="792" x2="1251.5" y2="805" stroke="#1481d6" stroke-width="1"/><rect x="1239.0" y="768.0" width="24" height="24" fill="#1481d6"/><line x1="1269.5" y1="816" x2="1269.5" y2="826" stroke="#1481d6" stroke-width="1"/><line x1="1269.5" y1="849" x2="1269.5" y2="859" stroke="#1481d6" stroke-width="1"/><rect x="1257.0" y="825.0" width="24" height="24" fill="#1481d6"/><line x1="1284.5" y1="891" x2="1284.5" y2="901" stroke="#1481d6" stroke-width="1"/><line x1="1284.5" y1="924" x2="1284.5" y2="931" stroke="#1481d6" stroke-width="1"/><rect x="1272.0" y="900.0" width="24" height="24" fill="#1481d6"/><line x1="1302.5" y1="885" x2="1302.5" y2="892" stroke="#1481d6" stroke-width="1"/><line x1="1302.5" y1="915" x2="1302.5" y2="925" stroke="#1481d6" stroke-width="1"/><rect x="1290.0" y="891.0" width="24" height="24" fill="#1481d6"/><line x1="1317.5" y1="909" x2="1317.5" y2="919" stroke="#1481d6" stroke-width="1"/><line x1="1317.5" y1="942" x2="1317.5" y2="949" stroke="#1481d6" stroke-width="1"/><rect x="1305.0" y="918.0" width="24" height="24" fill="#1481d6"/><line x1="1335.5" y1="942" x2="1335.5" y2="949" stroke="#1481d6" stroke-width="1"/><line x1="1335.5" y1="972" x2="1335.5" y2="979" stroke="#1481d6" stroke-width="1"/><rect x="1323.0" y="948.0" width="24" height="24" fill="#1481d6"/><line x1="1353.5" y1="996" x2="1353.5" y2="1000" stroke="#1481d6" stroke-width="1"/><line x1="1353.5" y1="1023" x2="1353.5" y2="1030" stroke="#1481d6" stroke-width="1"/><rect x="1341.0" y="999.0" width="24" height="24" fill="#1481d6"/><line x1="1368.5" y1="1029" x2="1368.5" y2="1033" stroke="#1481d6" stroke-width="1"/><line x1="1368.5" y1="1056" x2="1368.5" y2="1060" stroke="#1481d6" stroke-width="1"/><rect x="1356.0" y="1032.0" width="24" height="24" fill="#1481d6"/><line x1="1386.5" y1="1071" x2="1386.5" y2="1075" stroke="#1481d6" stroke-width="1"/><rect x="1374.0" y="1047.0" width="24" height="24" fill="#1481d6"/><line x1="1401.5" y1="1095" x2="1401.5" y2="1099" stroke="#1481d6" stroke-width="1"/><rect x="1389.0" y="1071.0" width="24" height="24" fill="#1481d6"/><rect x="1407.0" y="1104.0" width="24" height="24" fill="#1481d6"/><rect x="1422.0" y="1137.0" width="24" height="24" fill="#1481d6"/><rect x="1440.0" y="1143.0" width="24" height="24" fill="#1481d6"/><rect x="1455.0" y="1152.0" width="24" height="24" fill="#1481d6"/><rect x="1473.0" y="1173.0" width="24" height="24" fill="#1481d6"/><rect x="1491.0" y="1194.0" width="24" height="24" fill="#1481d6"/><rect x="1506.0" y="1203.0" width="24" height="24" fill="#1481d6"/><rect x="1524.0" y="1218.0" width="24" height="24" fill="#1481d6"/><rect x="1539.0" y="1218.0" width="24" height="24" fill="#1481d6"/><rect x="1557.0" y="1236.0" width="24" height="24" fill="#1481d6"/><rect x="1572.0" y="1230.0" width="24" height="24" fill="#1481d6"/><rect x="1590.0" y="1236.0" width="24" height="24" fill="#1481d6"/><rect x="1608.0" y="1248.0" width="24" height="24" fill="#1481d6"/><rect x="1623.0" y="1248.0" width="24" height="24" fill="#1481d6"/><rect x="1641.0" y="1251.0" width="24" height="24" fill="#1481d6"/><rect x="1656.0" y="1257.0" width="24" height="24" fill="#1481d6"/><rect x="1674.0" y="1254.0" width="24" height="24" fill="#1481d6"/><rect x="1689.0" y="1257.0" width="24" height="24" fill="#1481d6"/><rect x="1707.0" y="1254.0" width="24" height="24" fill="#1481d6"/><rect x="1725.0" y="1254.0" width="24" height="24" fill="#1481d6"/><rect x="1740.0" y="1257.0" width="24" height="24" fill="#1481d6"/><rect x="1758.0" y="1260.0" width="24" height="24" fill="#1481d6"/><rect x="1773.0" y="1260.0" width="24" height="24" fill="#1481d6"/><rect x="1791.0" y="1260.0" width="24" height="24" fill="#1481d6"/></g><g><path d="M255.5 1284.0H279.5L267.5 1260.5Z" fill="#2db6a5"/><path d="M270.5 1284.0H294.5L282.5 1260.5Z" fill="#2db6a5"/><path d="M288.5 1284.0H312.5L300.5 1260.5Z" fill="#2db6a5"/><path d="M303.5 1281.0H327.5L315.5 1257.5Z" fill="#2db6a5"/><path d="M321.5 1281.0H345.5L333.5 1257.5Z" fill="#2db6a5"/><path d="M336.5 1281.0H360.5L348.5 1257.5Z" fill="#2db6a5"/><path d="M354.5 1284.0H378.5L366.5 1260.5Z" fill="#2db6a5"/><path d="M372.5 1281.0H396.5L384.5 1257.5Z" fill="#2db6a5"/><path d="M387.5 1281.0H411.5L399.5 1257.5Z" fill="#2db6a5"/><path d="M405.5 1281.0H429.5L417.5 1257.5Z" fill="#2db6a5"/><path d="M420.5 1278.0H444.5L432.5 1254.5Z" fill="#2db6a5"/><path d="M438.5 1272.0H462.5L450.5 1248.5Z" fill="#2db6a5"/><path d="M453.5 1272.0H477.5L465.5 1248.5Z" fill="#2db6a5"/><path d="M471.5 1269.0H495.5L483.5 1245.5Z" fill="#2db6a5"/><path d="M489.5 1269.0H513.5L501.5 1245.5Z" fill="#2db6a5"/><path d="M504.5 1260.0H528.5L516.5 1236.5Z" fill="#2db6a5"/><path d="M522.5 1257.0H546.5L534.5 1233.5Z" fill="#2db6a5"/><path d="M537.5 1248.0H561.5L549.5 1224.5Z" fill="#2db6a5"/><path d="M555.5 1236.0H579.5L567.5 1212.5Z" fill="#2db6a5"/><path d="M570.5 1233.0H594.5L582.5 1209.5Z" fill="#2db6a5"/><path d="M588.5 1218.0H612.5L600.5 1194.5Z" fill="#2db6a5"/><path d="M606.5 1206.0H630.5L618.5 1182.5Z" fill="#2db6a5"/><path d="M621.5 1194.0H645.5L633.5 1170.5Z" fill="#2db6a5"/><path d="M639.5 1173.0H663.5L651.5 1149.5Z" fill="#2db6a5"/><path d="M654.5 1188.0H678.5L666.5 1164.5Z" fill="#2db6a5"/><path d="M672.5 1161.0H696.5L684.5 1137.5Z" fill="#2db6a5"/><path d="M687.5 1137.0H711.5L699.5 1113.5Z" fill="#2db6a5"/><path d="M705.5 1101.0H729.5L717.5 1077.5Z" fill="#2db6a5"/><path d="M720.5 1080.0H744.5L732.5 1056.5Z" fill="#2db6a5"/><line x1="750.5" y1="1053" x2="750.5" y2="1057" stroke="#2db6a5" stroke-width="1"/><path d="M738.5 1053.0H762.5L750.5 1029.5Z" fill="#2db6a5"/><line x1="768.5" y1="1017" x2="768.5" y2="1021" stroke="#2db6a5" stroke-width="1"/><path d="M756.5 1044.0H780.5L768.5 1020.5Z" fill="#2db6a5"/><line x1="783.5" y1="984" x2="783.5" y2="988" stroke="#2db6a5" stroke-width="1"/><line x1="783.5" y1="1011" x2="783.5" y2="1015" stroke="#2db6a5" stroke-width="1"/><path d="M771.5 1011.0H795.5L783.5 987.5Z" fill="#2db6a5"/><line x1="801.5" y1="960" x2="801.5" y2="964" stroke="#2db6a5" stroke-width="1"/><line x1="801.5" y1="987" x2="801.5" y2="991" stroke="#2db6a5" stroke-width="1"/><path d="M789.5 987.0H813.5L801.5 963.5Z" fill="#2db6a5"/><line x1="816.5" y1="891" x2="816.5" y2="898" stroke="#2db6a5" stroke-width="1"/><line x1="816.5" y1="921" x2="816.5" y2="925" stroke="#2db6a5" stroke-width="1"/><path d="M804.5 921.0H828.5L816.5 897.5Z" fill="#2db6a5"/><line x1="834.5" y1="894" x2="834.5" y2="901" stroke="#2db6a5" stroke-width="1"/><line x1="834.5" y1="924" x2="834.5" y2="928" stroke="#2db6a5" stroke-width="1"/><path d="M822.5 924.0H846.5L834.5 900.5Z" fill="#2db6a5"/><line x1="849.5" y1="858" x2="849.5" y2="862" stroke="#2db6a5" stroke-width="1"/><line x1="849.5" y1="885" x2="849.5" y2="892" stroke="#2db6a5" stroke-width="1"/><path d="M837.5 885.0H861.5L849.5 861.5Z" fill="#2db6a5"/><line x1="867.5" y1="816" x2="867.5" y2="823" stroke="#2db6a5" stroke-width="1"/><line x1="867.5" y1="846" x2="867.5" y2="853" stroke="#2db6a5" stroke-width="1"/><path d="M855.5 846.0H879.5L867.5 822.5Z" fill="#2db6a5"/><line x1="885.5" y1="813" x2="885.5" y2="820" stroke="#2db6a5" stroke-width="1"/><line x1="885.5" y1="843" x2="885.5" y2="850" stroke="#2db6a5" stroke-width="1"/><path d="M873.5 843.0H897.5L885.5 819.5Z" fill="#2db6a5"/><line x1="900.5" y1="810" x2="900.5" y2="817" stroke="#2db6a5" stroke-width="1"/><line x1="900.5" y1="840" x2="900.5" y2="847" stroke="#2db6a5" stroke-width="1"/><path d="M888.5 840.0H912.5L900.5 816.5Z" fill="#2db6a5"/><line x1="918.5" y1="765" x2="918.5" y2="772" stroke="#2db6a5" stroke-width="1"/><line x1="918.5" y1="795" x2="918.5" y2="802" stroke="#2db6a5" stroke-width="1"/><path d="M906.5 795.0H930.5L918.5 771.5Z" fill="#2db6a5"/><line x1="933.5" y1="723" x2="933.5" y2="730" stroke="#2db6a5" stroke-width="1"/><line x1="933.5" y1="753" x2="933.5" y2="763" stroke="#2db6a5" stroke-width="1"/><path d="M921.5 753.0H945.5L933.5 729.5Z" fill="#2db6a5"/><line x1="951.5" y1="729" x2="951.5" y2="739" stroke="#2db6a5" stroke-width="1"/><line x1="951.5" y1="762" x2="951.5" y2="769" stroke="#2db6a5" stroke-width="1"/><path d="M939.5 762.0H963.5L951.5 738.5Z" fill="#2db6a5"/><line x1="966.5" y1="693" x2="966.5" y2="703" stroke="#2db6a5" stroke-width="1"/><line x1="966.5" y1="726" x2="966.5" y2="736" stroke="#2db6a5" stroke-width="1"/><path d="M954.5 726.0H978.5L966.5 702.5Z" fill="#2db6a5"/><line x1="984.5" y1="696" x2="984.5" y2="706" stroke="#2db6a5" stroke-width="1"/><line x1="984.5" y1="729" x2="984.5" y2="736" stroke="#2db6a5" stroke-width="1"/><path d="M972.5 729.0H996.5L984.5 705.5Z" fill="#2db6a5"/><line x1="1002.5" y1="651" x2="1002.5" y2="661" stroke="#2db6a5" stroke-width="1"/><line x1="1002.5" y1="684" x2="1002.5" y2="694" stroke="#2db6a5" stroke-width="1"/><path d="M990.5 684.0H1014.5L1002.5 660.5Z" fill="#2db6a5"/><line x1="1017.5" y1="639" x2="1017.5" y2="649" stroke="#2db6a5" stroke-width="1"/><line x1="1017.5" y1="672" x2="1017.5" y2="682" stroke="#2db6a5" stroke-width="1"/><path d="M1005.5 672.0H1029.5L1017.5 648.5Z" fill="#2db6a5"/><line x1="1035.5" y1="648" x2="1035.5" y2="658" stroke="#2db6a5" stroke-width="1"/><line x1="1035.5" y1="681" x2="1035.5" y2="691" stroke="#2db6a5" stroke-width="1"/><path d="M1023.5 681.0H1047.5L1035.5 657.5Z" fill="#2db6a5"/><line x1="1050.5" y1="666" x2="1050.5" y2="676" stroke="#2db6a5" stroke-width="1"/><line x1="1050.5" y1="699" x2="1050.5" y2="709" stroke="#2db6a5" stroke-width="1"/><path d="M1038.5 699.0H1062.5L1050.5 675.5Z" fill="#2db6a5"/><line x1="1068.5" y1="627" x2="1068.5" y2="637" stroke="#2db6a5" stroke-width="1"/><line x1="1068.5" y1="660" x2="1068.5" y2="670" stroke="#2db6a5" stroke-width="1"/><path d="M1056.5 660.0H1080.5L1068.5 636.5Z" fill="#2db6a5"/><line x1="1083.5" y1="642" x2="1083.5" y2="652" stroke="#2db6a5" stroke-width="1"/><line x1="1083.5" y1="675" x2="1083.5" y2="685" stroke="#2db6a5" stroke-width="1"/><path d="M1071.5 675.0H1095.5L1083.5 651.5Z" fill="#2db6a5"/><line x1="1101.5" y1="666" x2="1101.5" y2="676" stroke="#2db6a5" stroke-width="1"/><line x1="1101.5" y1="699" x2="1101.5" y2="709" stroke="#2db6a5" stroke-width="1"/><path d="M1089.5 699.0H1113.5L1101.5 675.5Z" fill="#2db6a5"/><line x1="1119.5" y1="702" x2="1119.5" y2="709" stroke="#2db6a5" stroke-width="1"/><line x1="1119.5" y1="732" x2="1119.5" y2="742" stroke="#2db6a5" stroke-width="1"/><path d="M1107.5 732.0H1131.5L1119.5 708.5Z" fill="#2db6a5"/><line x1="1134.5" y1="702" x2="1134.5" y2="712" stroke="#2db6a5" stroke-width="1"/><line x1="1134.5" y1="735" x2="1134.5" y2="742" stroke="#2db6a5" stroke-width="1"/><path d="M1122.5 735.0H1146.5L1134.5 711.5Z" fill="#2db6a5"/><line x1="1152.5" y1="732" x2="1152.5" y2="739" stroke="#2db6a5" stroke-width="1"/><line x1="1152.5" y1="762" x2="1152.5" y2="772" stroke="#2db6a5" stroke-width="1"/><path d="M1140.5 762.0H1164.5L1152.5 738.5Z" fill="#2db6a5"/><line x1="1167.5" y1="762" x2="1167.5" y2="769" stroke="#2db6a5" stroke-width="1"/><line x1="1167.5" y1="792" x2="1167.5" y2="802" stroke="#2db6a5" stroke-width="1"/><path d="M1155.5 792.0H1179.5L1167.5 768.5Z" fill="#2db6a5"/><line x1="1185.5" y1="786" x2="1185.5" y2="793" stroke="#2db6a5" stroke-width="1"/><line x1="1185.5" y1="816" x2="1185.5" y2="826" stroke="#2db6a5" stroke-width="1"/><path d="M1173.5 816.0H1197.5L1185.5 792.5Z" fill="#2db6a5"/><line x1="1200.5" y1="807" x2="1200.5" y2="814" stroke="#2db6a5" stroke-width="1"/><line x1="1200.5" y1="837" x2="1200.5" y2="844" stroke="#2db6a5" stroke-width="1"/><path d="M1188.5 837.0H1212.5L1200.5 813.5Z" fill="#2db6a5"/><line x1="1218.5" y1="843" x2="1218.5" y2="850" stroke="#2db6a5" stroke-width="1"/><line x1="1218.5" y1="873" x2="1218.5" y2="880" stroke="#2db6a5" stroke-width="1"/><path d="M1206.5 873.0H1230.5L1218.5 849.5Z" fill="#2db6a5"/><line x1="1236.5" y1="888" x2="1236.5" y2="892" stroke="#2db6a5" stroke-width="1"/><line x1="1236.5" y1="915" x2="1236.5" y2="922" stroke="#2db6a5" stroke-width="1"/><path d="M1224.5 915.0H1248.5L1236.5 891.5Z" fill="#2db6a5"/><line x1="1251.5" y1="888" x2="1251.5" y2="892" stroke="#2db6a5" stroke-width="1"/><line x1="1251.5" y1="915" x2="1251.5" y2="922" stroke="#2db6a5" stroke-width="1"/><path d="M1239.5 915.0H1263.5L1251.5 891.5Z" fill="#2db6a5"/><line x1="1269.5" y1="930" x2="1269.5" y2="937" stroke="#2db6a5" stroke-width="1"/><line x1="1269.5" y1="960" x2="1269.5" y2="964" stroke="#2db6a5" stroke-width="1"/><path d="M1257.5 960.0H1281.5L1269.5 936.5Z" fill="#2db6a5"/><line x1="1284.5" y1="987" x2="1284.5" y2="991" stroke="#2db6a5" stroke-width="1"/><path d="M1272.5 1014.0H1296.5L1284.5 990.5Z" fill="#2db6a5"/><line x1="1302.5" y1="981" x2="1302.5" y2="985" stroke="#2db6a5" stroke-width="1"/><line x1="1302.5" y1="1008" x2="1302.5" y2="1012" stroke="#2db6a5" stroke-width="1"/><path d="M1290.5 1008.0H1314.5L1302.5 984.5Z" fill="#2db6a5"/><line x1="1317.5" y1="1026" x2="1317.5" y2="1030" stroke="#2db6a5" stroke-width="1"/><path d="M1305.5 1026.0H1329.5L1317.5 1002.5Z" fill="#2db6a5"/><path d="M1323.5 1050.0H1347.5L1335.5 1026.5Z" fill="#2db6a5"/><path d="M1341.5 1089.0H1365.5L1353.5 1065.5Z" fill="#2db6a5"/><path d="M1356.5 1113.0H1380.5L1368.5 1089.5Z" fill="#2db6a5"/><path d="M1374.5 1125.0H1398.5L1386.5 1101.5Z" fill="#2db6a5"/><path d="M1389.5 1143.0H1413.5L1401.5 1119.5Z" fill="#2db6a5"/><path d="M1407.5 1167.0H1431.5L1419.5 1143.5Z" fill="#2db6a5"/><path d="M1422.5 1194.0H1446.5L1434.5 1170.5Z" fill="#2db6a5"/><path d="M1440.5 1197.0H1464.5L1452.5 1173.5Z" fill="#2db6a5"/><path d="M1455.5 1203.0H1479.5L1467.5 1179.5Z" fill="#2db6a5"/><path d="M1473.5 1218.0H1497.5L1485.5 1194.5Z" fill="#2db6a5"/><path d="M1491.5 1236.0H1515.5L1503.5 1212.5Z" fill="#2db6a5"/><path d="M1506.5 1242.0H1530.5L1518.5 1218.5Z" fill="#2db6a5"/><path d="M1524.5 1251.0H1548.5L1536.5 1227.5Z" fill="#2db6a5"/><path d="M1539.5 1251.0H1563.5L1551.5 1227.5Z" fill="#2db6a5"/><path d="M1557.5 1266.0H1581.5L1569.5 1242.5Z" fill="#2db6a5"/><path d="M1572.5 1263.0H1596.5L1584.5 1239.5Z" fill="#2db6a5"/><path d="M1590.5 1266.0H1614.5L1602.5 1242.5Z" fill="#2db6a5"/><path d="M1608.5 1275.0H1632.5L1620.5 1251.5Z" fill="#2db6a5"/><path d="M1623.5 1275.0H1647.5L1635.5 1251.5Z" fill="#2db6a5"/><path d="M1641.5 1278.0H1665.5L1653.5 1254.5Z" fill="#2db6a5"/><path d="M1656.5 1281.0H1680.5L1668.5 1257.5Z" fill="#2db6a5"/><path d="M1674.5 1281.0H1698.5L1686.5 1257.5Z" fill="#2db6a5"/><path d="M1689.5 1284.0H1713.5L1701.5 1260.5Z" fill="#2db6a5"/><path d="M1707.5 1278.0H1731.5L1719.5 1254.5Z" fill="#2db6a5"/><path d="M1725.5 1281.0H1749.5L1737.5 1257.5Z" fill="#2db6a5"/><path d="M1740.5 1281.0H1764.5L1752.5 1257.5Z" fill="#2db6a5"/><path d="M1758.5 1284.0H1782.5L1770.5 1260.5Z" fill="#2db6a5"/><path d="M1773.5 1284.0H1797.5L1785.5 1260.5Z" fill="#2db6a5"/><path d="M1791.5 1284.0H1815.5L1803.5 1260.5Z" fill="#2db6a5"/></g><g><path d="M255.0 1260.0H279.0L267.0 1284.3Z" fill="#ccbb5b"/><path d="M270.0 1260.0H294.0L282.0 1284.3Z" fill="#ccbb5b"/><path d="M288.0 1260.0H312.0L300.0 1284.3Z" fill="#ccbb5b"/><path d="M303.0 1257.0H327.0L315.0 1281.3Z" fill="#ccbb5b"/><path d="M321.0 1257.0H345.0L333.0 1281.3Z" fill="#ccbb5b"/><path d="M336.0 1260.0H360.0L348.0 1284.3Z" fill="#ccbb5b"/><path d="M354.0 1260.0H378.0L366.0 1284.3Z" fill="#ccbb5b"/><path d="M372.0 1257.0H396.0L384.0 1281.3Z" fill="#ccbb5b"/><path d="M387.0 1257.0H411.0L399.0 1281.3Z" fill="#ccbb5b"/><path d="M405.0 1257.0H429.0L417.0 1281.3Z" fill="#ccbb5b"/><path d="M420.0 1257.0H444.0L432.0 1281.3Z" fill="#ccbb5b"/><path d="M438.0 1251.0H462.0L450.0 1275.3Z" fill="#ccbb5b"/><path d="M453.0 1251.0H477.0L465.0 1275.3Z" fill="#ccbb5b"/><path d="M471.0 1251.0H495.0L483.0 1275.3Z" fill="#ccbb5b"/><path d="M489.0 1251.0H513.0L501.0 1275.3Z" fill="#ccbb5b"/><path d="M504.0 1245.0H528.0L516.0 1269.3Z" fill="#ccbb5b"/><path d="M522.0 1242.0H546.0L534.0 1266.3Z" fill="#ccbb5b"/><path d="M537.0 1236.0H561.0L549.0 1260.3Z" fill="#ccbb5b"/><path d="M555.0 1230.0H579.0L567.0 1254.3Z" fill="#ccbb5b"/><path d="M570.0 1227.0H594.0L582.0 1251.3Z" fill="#ccbb5b"/><path d="M588.0 1215.0H612.0L600.0 1239.3Z" fill="#ccbb5b"/><path d="M606.0 1209.0H630.0L618.0 1233.3Z" fill="#ccbb5b"/><path d="M621.0 1200.0H645.0L633.0 1224.3Z" fill="#ccbb5b"/><path d="M639.0 1188.0H663.0L651.0 1212.3Z" fill="#ccbb5b"/><path d="M654.0 1197.0H678.0L666.0 1221.3Z" fill="#ccbb5b"/><path d="M672.0 1179.0H696.0L684.0 1203.3Z" fill="#ccbb5b"/><path d="M687.0 1164.0H711.0L699.0 1188.3Z" fill="#ccbb5b"/><path d="M705.0 1140.0H729.0L717.0 1164.3Z" fill="#ccbb5b"/><path d="M720.0 1125.0H744.0L732.0 1149.3Z" fill="#ccbb5b"/><path d="M738.0 1107.0H762.0L750.0 1131.3Z" fill="#ccbb5b"/><path d="M756.0 1101.0H780.0L768.0 1125.3Z" fill="#ccbb5b"/><path d="M771.0 1080.0H795.0L783.0 1104.3Z" fill="#ccbb5b"/><path d="M789.0 1062.0H813.0L801.0 1086.3Z" fill="#ccbb5b"/><path d="M804.0 1017.0H828.0L816.0 1041.3Z" fill="#ccbb5b"/><path d="M822.0 1020.0H846.0L834.0 1044.3Z" fill="#ccbb5b"/><path d="M837.0 996.0H861.0L849.0 1020.3Z" fill="#ccbb5b"/><path d="M855.0 969.0H879.0L867.0 993.3Z" fill="#ccbb5b"/><path d="M873.0 966.0H897.0L885.0 990.3Z" fill="#ccbb5b"/><path d="M888.0 963.0H912.0L900.0 987.3Z" fill="#ccbb5b"/><line x1="918.5" y1="957" x2="918.5" y2="961" stroke="#ccbb5b" stroke-width="1"/><path d="M906.0 933.0H930.0L918.0 957.3Z" fill="#ccbb5b"/><line x1="933.5" y1="930" x2="933.5" y2="934" stroke="#ccbb5b" stroke-width="1"/><path d="M921.0 906.0H945.0L933.0 930.3Z" fill="#ccbb5b"/><line x1="951.5" y1="909" x2="951.5" y2="913" stroke="#ccbb5b" stroke-width="1"/><path d="M939.0 912.0H963.0L951.0 936.3Z" fill="#ccbb5b"/><line x1="966.5" y1="912" x2="966.5" y2="916" stroke="#ccbb5b" stroke-width="1"/><path d="M954.0 888.0H978.0L966.0 912.3Z" fill="#ccbb5b"/><line x1="984.5" y1="888" x2="984.5" y2="892" stroke="#ccbb5b" stroke-width="1"/><path d="M972.0 891.0H996.0L984.0 915.3Z" fill="#ccbb5b"/><line x1="1002.5" y1="858" x2="1002.5" y2="862" stroke="#ccbb5b" stroke-width="1"/><line x1="1002.5" y1="885" x2="1002.5" y2="889" stroke="#ccbb5b" stroke-width="1"/><path d="M990.0 861.0H1014.0L1002.0 885.3Z" fill="#ccbb5b"/><line x1="1017.5" y1="849" x2="1017.5" y2="853" stroke="#ccbb5b" stroke-width="1"/><line x1="1017.5" y1="876" x2="1017.5" y2="880" stroke="#ccbb5b" stroke-width="1"/><path d="M1005.0 852.0H1029.0L1017.0 876.3Z" fill="#ccbb5b"/><line x1="1035.5" y1="882" x2="1035.5" y2="886" stroke="#ccbb5b" stroke-width="1"/><path d="M1023.0 858.0H1047.0L1035.0 882.3Z" fill="#ccbb5b"/><line x1="1050.5" y1="894" x2="1050.5" y2="898" stroke="#ccbb5b" stroke-width="1"/><path d="M1038.0 870.0H1062.0L1050.0 894.3Z" fill="#ccbb5b"/><line x1="1068.5" y1="840" x2="1068.5" y2="844" stroke="#ccbb5b" stroke-width="1"/><line x1="1068.5" y1="867" x2="1068.5" y2="871" stroke="#ccbb5b" stroke-width="1"/><path d="M1056.0 843.0H1080.0L1068.0 867.3Z" fill="#ccbb5b"/><line x1="1083.5" y1="852" x2="1083.5" y2="856" stroke="#ccbb5b" stroke-width="1"/><path d="M1071.0 855.0H1095.0L1083.0 879.3Z" fill="#ccbb5b"/><line x1="1101.5" y1="894" x2="1101.5" y2="898" stroke="#ccbb5b" stroke-width="1"/><path d="M1089.0 870.0H1113.0L1101.0 894.3Z" fill="#ccbb5b"/><line x1="1119.5" y1="891" x2="1119.5" y2="895" stroke="#ccbb5b" stroke-width="1"/><path d="M1107.0 894.0H1131.0L1119.0 918.3Z" fill="#ccbb5b"/><line x1="1134.5" y1="891" x2="1134.5" y2="895" stroke="#ccbb5b" stroke-width="1"/><path d="M1122.0 894.0H1146.0L1134.0 918.3Z" fill="#ccbb5b"/><line x1="1152.5" y1="936" x2="1152.5" y2="940" stroke="#ccbb5b" stroke-width="1"/><path d="M1140.0 912.0H1164.0L1152.0 936.3Z" fill="#ccbb5b"/><path d="M1155.0 933.0H1179.0L1167.0 957.3Z" fill="#ccbb5b"/><line x1="1185.5" y1="972" x2="1185.5" y2="976" stroke="#ccbb5b" stroke-width="1"/><path d="M1173.0 948.0H1197.0L1185.0 972.3Z" fill="#ccbb5b"/><path d="M1188.0 963.0H1212.0L1200.0 987.3Z" fill="#ccbb5b"/><path d="M1206.0 987.0H1230.0L1218.0 1011.3Z" fill="#ccbb5b"/><path d="M1224.0 1014.0H1248.0L1236.0 1038.3Z" fill="#ccbb5b"/><path d="M1239.0 1014.0H1263.0L1251.0 1038.3Z" fill="#ccbb5b"/><path d="M1257.0 1044.0H1281.0L1269.0 1068.3Z" fill="#ccbb5b"/><path d="M1272.0 1080.0H1296.0L1284.0 1104.3Z" fill="#ccbb5b"/><path d="M1290.0 1077.0H1314.0L1302.0 1101.3Z" fill="#ccbb5b"/><path d="M1305.0 1089.0H1329.0L1317.0 1113.3Z" fill="#ccbb5b"/><path d="M1323.0 1104.0H1347.0L1335.0 1128.3Z" fill="#ccbb5b"/><path d="M1341.0 1131.0H1365.0L1353.0 1155.3Z" fill="#ccbb5b"/><path d="M1356.0 1146.0H1380.0L1368.0 1170.3Z" fill="#ccbb5b"/><path d="M1374.0 1155.0H1398.0L1386.0 1179.3Z" fill="#ccbb5b"/><path d="M1389.0 1167.0H1413.0L1401.0 1191.3Z" fill="#ccbb5b"/><path d="M1407.0 1182.0H1431.0L1419.0 1206.3Z" fill="#ccbb5b"/><path d="M1422.0 1200.0H1446.0L1434.0 1224.3Z" fill="#ccbb5b"/><path d="M1440.0 1203.0H1464.0L1452.0 1227.3Z" fill="#ccbb5b"/><path d="M1455.0 1206.0H1479.0L1467.0 1230.3Z" fill="#ccbb5b"/><path d="M1473.0 1215.0H1497.0L1485.0 1239.3Z" fill="#ccbb5b"/><path d="M1491.0 1227.0H1515.0L1503.0 1251.3Z" fill="#ccbb5b"/><path d="M1506.0 1233.0H1530.0L1518.0 1257.3Z" fill="#ccbb5b"/><path d="M1524.0 1239.0H1548.0L1536.0 1263.3Z" fill="#ccbb5b"/><path d="M1539.0 1239.0H1563.0L1551.0 1263.3Z" fill="#ccbb5b"/><path d="M1557.0 1248.0H1581.0L1569.0 1272.3Z" fill="#ccbb5b"/><path d="M1572.0 1245.0H1596.0L1584.0 1269.3Z" fill="#ccbb5b"/><path d="M1590.0 1248.0H1614.0L1602.0 1272.3Z" fill="#ccbb5b"/><path d="M1608.0 1254.0H1632.0L1620.0 1278.3Z" fill="#ccbb5b"/><path d="M1623.0 1254.0H1647.0L1635.0 1278.3Z" fill="#ccbb5b"/><path d="M1641.0 1254.0H1665.0L1653.0 1278.3Z" fill="#ccbb5b"/><path d="M1656.0 1257.0H1680.0L1668.0 1281.3Z" fill="#ccbb5b"/><path d="M1674.0 1257.0H1698.0L1686.0 1281.3Z" fill="#ccbb5b"/><path d="M1689.0 1260.0H1713.0L1701.0 1284.3Z" fill="#ccbb5b"/><path d="M1707.0 1257.0H1731.0L1719.0 1281.3Z" fill="#ccbb5b"/><path d="M1725.0 1257.0H1749.0L1737.0 1281.3Z" fill="#ccbb5b"/><path d="M1740.0 1260.0H1764.0L1752.0 1284.3Z" fill="#ccbb5b"/><path d="M1758.0 1260.0H1782.0L1770.0 1284.3Z" fill="#ccbb5b"/><path d="M1773.0 1260.0H1797.0L1785.0 1284.3Z" fill="#ccbb5b"/><path d="M1791.0 1260.0H1815.0L1803.0 1284.3Z" fill="#ccbb5b"/></g><g><circle cx="267.5" cy="1272.5" r="12" fill="none" stroke="#f9f611" stroke-width="1.1"/><circle cx="282.5" cy="1272.5" r="12" fill="none" stroke="#f9f611" stroke-width="1.1"/><circle cx="300.5" cy="1272.5" r="12" fill="none" stroke="#f9f611" stroke-width="1.1"/><circle cx="315.5" cy="1272.5" r="12" fill="none" stroke="#f9f611" stroke-width="1.1"/><circle cx="333.5" cy="1272.5" r="12" fill="none" stroke="#f9f611" stroke-width="1.1"/><circle cx="348.5" cy="1272.5" r="12" fill="none" stroke="#f9f611" stroke-width="1.1"/><circle cx="366.5" cy="1272.5" r="12" fill="none" stroke="#f9f611" stroke-width="1.1"/><circle cx="384.5" cy="1272.5" r="12" fill="none" stroke="#f9f611" stroke-width="1.1"/><circle cx="399.5" cy="1272.5" r="12" fill="none" stroke="#f9f611" stroke-width="1.1"/><circle cx="417.5" cy="1272.5" r="12" fill="none" stroke="#f9f611" stroke-width="1.1"/><circle cx="432.5" cy="1269.5" r="12" fill="none" stroke="#f9f611" stroke-width="1.1"/><circle cx="450.5" cy="1269.5" r="12" fill="none" stroke="#f9f611" stroke-width="1.1"/><circle cx="465.5" cy="1269.5" r="12" fill="none" stroke="#f9f611" stroke-width="1.1"/><circle cx="483.5" cy="1266.5" r="12" fill="none" stroke="#f9f611" stroke-width="1.1"/><circle cx="501.5" cy="1269.5" r="12" fill="none" stroke="#f9f611" stroke-width="1.1"/><circle cx="516.5" cy="1263.5" r="12" fill="none" stroke="#f9f611" stroke-width="1.1"/><circle cx="534.5" cy="1263.5" r="12" fill="none" stroke="#f9f611" stroke-width="1.1"/><circle cx="549.5" cy="1260.5" r="12" fill="none" stroke="#f9f611" stroke-width="1.1"/><circle cx="567.5" cy="1257.5" r="12" fill="none" stroke="#f9f611" stroke-width="1.1"/><circle cx="582.5" cy="1257.5" r="12" fill="none" stroke="#f9f611" stroke-width="1.1"/><circle cx="600.5" cy="1251.5" r="12" fill="none" stroke="#f9f611" stroke-width="1.1"/><circle cx="618.5" cy="1245.5" r="12" fill="none" stroke="#f9f611" stroke-width="1.1"/><circle cx="633.5" cy="1242.5" r="12" fill="none" stroke="#f9f611" stroke-width="1.1"/><circle cx="651.5" cy="1236.5" r="12" fill="none" stroke="#f9f611" stroke-width="1.1"/><circle cx="666.5" cy="1242.5" r="12" fill="none" stroke="#f9f611" stroke-width="1.1"/><circle cx="684.5" cy="1233.5" r="12" fill="none" stroke="#f9f611" stroke-width="1.1"/><circle cx="699.5" cy="1224.5" r="12" fill="none" stroke="#f9f611" stroke-width="1.1"/><circle cx="717.5" cy="1212.5" r="12" fill="none" stroke="#f9f611" stroke-width="1.1"/><circle cx="732.5" cy="1206.5" r="12" fill="none" stroke="#f9f611" stroke-width="1.1"/><circle cx="750.5" cy="1197.5" r="12" fill="none" stroke="#f9f611" stroke-width="1.1"/><circle cx="768.5" cy="1194.5" r="12" fill="none" stroke="#f9f611" stroke-width="1.1"/><circle cx="783.5" cy="1182.5" r="12" fill="none" stroke="#f9f611" stroke-width="1.1"/><circle cx="801.5" cy="1173.5" r="12" fill="none" stroke="#f9f611" stroke-width="1.1"/><circle cx="816.5" cy="1152.5" r="12" fill="none" stroke="#f9f611" stroke-width="1.1"/><circle cx="834.5" cy="1152.5" r="12" fill="none" stroke="#f9f611" stroke-width="1.1"/><circle cx="849.5" cy="1140.5" r="12" fill="none" stroke="#f9f611" stroke-width="1.1"/><circle cx="867.5" cy="1128.5" r="12" fill="none" stroke="#f9f611" stroke-width="1.1"/><circle cx="885.5" cy="1125.5" r="12" fill="none" stroke="#f9f611" stroke-width="1.1"/><circle cx="900.5" cy="1125.5" r="12" fill="none" stroke="#f9f611" stroke-width="1.1"/><circle cx="918.5" cy="1110.5" r="12" fill="none" stroke="#f9f611" stroke-width="1.1"/><circle cx="933.5" cy="1095.5" r="12" fill="none" stroke="#f9f611" stroke-width="1.1"/><circle cx="951.5" cy="1098.5" r="12" fill="none" stroke="#f9f611" stroke-width="1.1"/><circle cx="966.5" cy="1086.5" r="12" fill="none" stroke="#f9f611" stroke-width="1.1"/><circle cx="984.5" cy="1086.5" r="12" fill="none" stroke="#f9f611" stroke-width="1.1"/><circle cx="1002.5" cy="1074.5" r="12" fill="none" stroke="#f9f611" stroke-width="1.1"/><circle cx="1017.5" cy="1068.5" r="12" fill="none" stroke="#f9f611" stroke-width="1.1"/><circle cx="1035.5" cy="1071.5" r="12" fill="none" stroke="#f9f611" stroke-width="1.1"/><circle cx="1050.5" cy="1077.5" r="12" fill="none" stroke="#f9f611" stroke-width="1.1"/><circle cx="1068.5" cy="1065.5" r="12" fill="none" stroke="#f9f611" stroke-width="1.1"/><circle cx="1083.5" cy="1068.5" r="12" fill="none" stroke="#f9f611" stroke-width="1.1"/><circle cx="1101.5" cy="1077.5" r="12" fill="none" stroke="#f9f611" stroke-width="1.1"/><circle cx="1119.5" cy="1089.5" r="12" fill="none" stroke="#f9f611" stroke-width="1.1"/><circle cx="1134.5" cy="1089.5" r="12" fill="none" stroke="#f9f611" stroke-width="1.1"/><circle cx="1152.5" cy="1098.5" r="12" fill="none" stroke="#f9f611" stroke-width="1.1"/><circle cx="1167.5" cy="1110.5" r="12" fill="none" stroke="#f9f611" stroke-width="1.1"/><circle cx="1185.5" cy="1116.5" r="12" fill="none" stroke="#f9f611" stroke-width="1.1"/><circle cx="1200.5" cy="1125.5" r="12" fill="none" stroke="#f9f611" stroke-width="1.1"/><circle cx="1218.5" cy="1137.5" r="12" fill="none" stroke="#f9f611" stroke-width="1.1"/><circle cx="1236.5" cy="1149.5" r="12" fill="none" stroke="#f9f611" stroke-width="1.1"/><circle cx="1251.5" cy="1149.5" r="12" fill="none" stroke="#f9f611" stroke-width="1.1"/><circle cx="1269.5" cy="1164.5" r="12" fill="none" stroke="#f9f611" stroke-width="1.1"/><circle cx="1284.5" cy="1182.5" r="12" fill="none" stroke="#f9f611" stroke-width="1.1"/><circle cx="1302.5" cy="1182.5" r="12" fill="none" stroke="#f9f611" stroke-width="1.1"/><circle cx="1317.5" cy="1188.5" r="12" fill="none" stroke="#f9f611" stroke-width="1.1"/><circle cx="1335.5" cy="1194.5" r="12" fill="none" stroke="#f9f611" stroke-width="1.1"/><circle cx="1353.5" cy="1209.5" r="12" fill="none" stroke="#f9f611" stroke-width="1.1"/><circle cx="1368.5" cy="1215.5" r="12" fill="none" stroke="#f9f611" stroke-width="1.1"/><circle cx="1386.5" cy="1221.5" r="12" fill="none" stroke="#f9f611" stroke-width="1.1"/><circle cx="1401.5" cy="1227.5" r="12" fill="none" stroke="#f9f611" stroke-width="1.1"/><circle cx="1419.5" cy="1233.5" r="12" fill="none" stroke="#f9f611" stroke-width="1.1"/><circle cx="1434.5" cy="1242.5" r="12" fill="none" stroke="#f9f611" stroke-width="1.1"/><circle cx="1452.5" cy="1242.5" r="12" fill="none" stroke="#f9f611" stroke-width="1.1"/><circle cx="1467.5" cy="1245.5" r="12" fill="none" stroke="#f9f611" stroke-width="1.1"/><circle cx="1485.5" cy="1251.5" r="12" fill="none" stroke="#f9f611" stroke-width="1.1"/><circle cx="1503.5" cy="1257.5" r="12" fill="none" stroke="#f9f611" stroke-width="1.1"/><circle cx="1518.5" cy="1257.5" r="12" fill="none" stroke="#f9f611" stroke-width="1.1"/><circle cx="1536.5" cy="1263.5" r="12" fill="none" stroke="#f9f611" stroke-width="1.1"/><circle cx="1551.5" cy="1263.5" r="12" fill="none" stroke="#f9f611" stroke-width="1.1"/><circle cx="1569.5" cy="1266.5" r="12" fill="none" stroke="#f9f611" stroke-width="1.1"/><circle cx="1584.5" cy="1266.5" r="12" fill="none" stroke="#f9f611" stroke-width="1.1"/><circle cx="1602.5" cy="1266.5" r="12" fill="none" stroke="#f9f611" stroke-width="1.1"/><circle cx="1620.5" cy="1269.5" r="12" fill="none" stroke="#f9f611" stroke-width="1.1"/><circle cx="1635.5" cy="1269.5" r="12" fill="none" stroke="#f9f611" stroke-width="1.1"/><circle cx="1653.5" cy="1269.5" r="12" fill="none" stroke="#f9f611" stroke-width="1.1"/><circle cx="1668.5" cy="1272.5" r="12" fill="none" stroke="#f9f611" stroke-width="1.1"/><circle cx="1686.5" cy="1272.5" r="12" fill="none" stroke="#f9f611" stroke-width="1.1"/><circle cx="1701.5" cy="1272.5" r="12" fill="none" stroke="#f9f611" stroke-width="1.1"/><circle cx="1719.5" cy="1272.5" r="12" fill="none" stroke="#f9f611" stroke-width="1.1"/><circle cx="1737.5" cy="1272.5" r="12" fill="none" stroke="#f9f611" stroke-width="1.1"/><circle cx="1752.5" cy="1272.5" r="12" fill="none" stroke="#f9f611" stroke-width="1.1"/><circle cx="1770.5" cy="1272.5" r="12" fill="none" stroke="#f9f611" stroke-width="1.1"/><circle cx="1785.5" cy="1272.5" r="12" fill="none" stroke="#f9f611" stroke-width="1.1"/><circle cx="1803.5" cy="1272.5" r="12" fill="none" stroke="#f9f611" stroke-width="1.1"/></g><rect x="210.5" y="363.5" width="627" height="297" fill="#fff" stroke="#000" stroke-width="1"/><line x1="234" y1="393.5" x2="343" y2="393.5" stroke="#352a87" stroke-width="1"/><circle cx="288.5" cy="393.5" r="12.3" fill="#352a87"/><text transform="translate(366,402) scale(0.982,1.04)" class="leg">Histogram drawn with full circles</text><line x1="234" y1="453.5" x2="343" y2="453.5" stroke="#1481d6" stroke-width="1"/><rect x="276.0" y="441.0" width="24" height="24" fill="#1481d6"/><text transform="translate(366,462) scale(0.982,1.04)" class="leg">Histogram drawn with full squares</text><line x1="234" y1="513.5" x2="343" y2="513.5" stroke="#2db6a5" stroke-width="1"/><path d="M276.5 525.0H300.5L288.5 502.0Z" fill="#2db6a5"/><text transform="translate(366,522) scale(0.982,1.04)" class="leg">Histogram drawn with full triangles up</text><line x1="234" y1="573.5" x2="343" y2="573.5" stroke="#ccbb5b" stroke-width="1"/><path d="M276.5 561.0H300.5L288.5 585.0Z" fill="#ccbb5b"/><text transform="translate(366,582) scale(0.982,1.04)" class="leg">Histogram drawn with full triangles down</text><line x1="234" y1="633.5" x2="343" y2="633.5" stroke="#f9f611" stroke-width="1"/><circle cx="288.5" cy="633.5" r="12" fill="none" stroke="#f9f611" stroke-width="1.1"/><text transform="translate(366,642) scale(0.982,1.04)" class="leg">Histogram drawn with empty circles</text>
</svg></body></html>
